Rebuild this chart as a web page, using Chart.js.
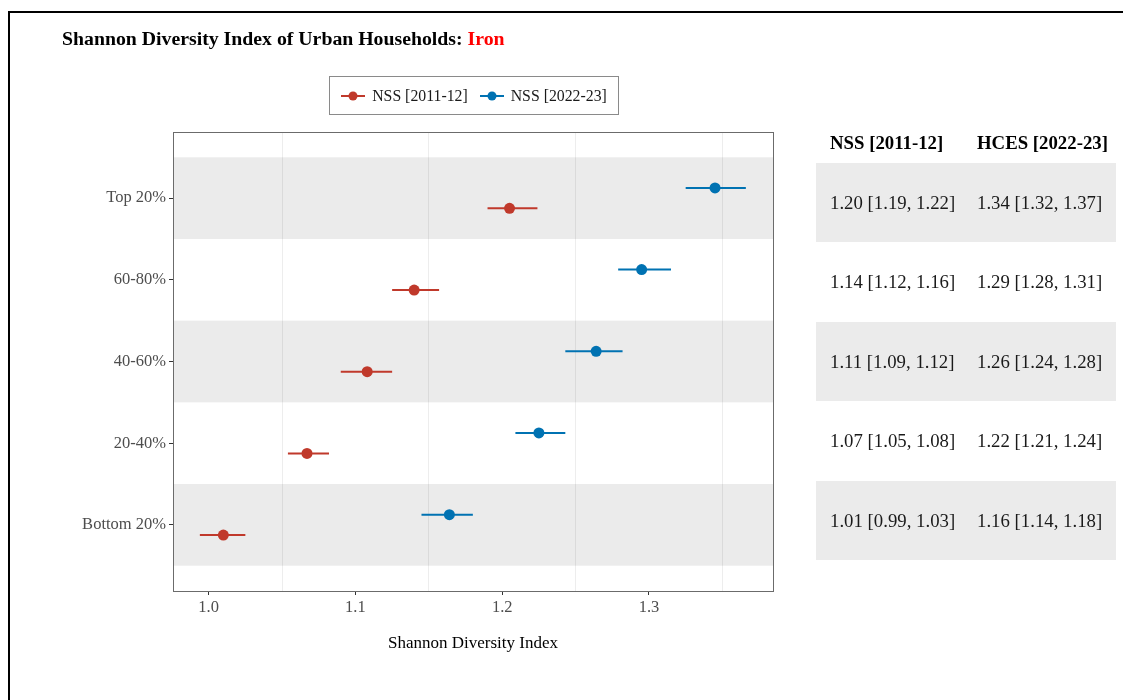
<!DOCTYPE html>
<html>
<head>
<meta charset="utf-8">
<script src="https://cdn.jsdelivr.net/npm/chart.js@4.4.1/dist/chart.umd.min.js"></script>
<style>
  body { margin: 0; width: 1123px; height: 700px; overflow: hidden; background: #fff; font-family: "Liberation Serif", serif; position: relative; }
  #frame { position: absolute; left: 8px; top: 11px; width: 1200px; height: 800px; border-left: 2px solid #000; border-top: 2px solid #000; }
  #chart { position: absolute; left: 0; top: 0; }
  #title { position: absolute; left: 62px; top: 27px; font-size: 19.8px; font-weight: bold; line-height: 22px; color: #000; white-space: nowrap; }
  #title span { color: #f00; }
  #legend { position: absolute; left: 329px; top: 76px; width: 288px; height: 37px; border: 1px solid #8a8a8a; display: flex; align-items: center; justify-content: center; gap: 12px; font-size: 15.8px; color: #1a1a1a; }
  #legend .item { display: flex; align-items: center; gap: 7px; white-space: nowrap; }
  .tbl { position: absolute; white-space: nowrap; color: #1a1a1a; }
  .hdr { font-weight: bold; font-size: 18.8px; color: #000; }
  .band { position: absolute; left: 816px; width: 300px; background: #ebebeb; }
</style>
</head>
<body>
<div id="frame"></div>
<canvas id="chart" width="1123" height="700"></canvas>
<div id="title">Shannon Diversity Index of Urban Households: <span>Iron</span></div>
<div id="legend"></div>
<div id="table"></div>
<script>
"use strict"

// categories from top to bottom
const categories = ['Top 20%', '60-80%', '40-60%', '20-40%', 'Bottom 20%'];
const xTicks = [1.0, 1.1, 1.2, 1.3];
const xGrid = [1.05, 1.15, 1.25, 1.35];

const nssMean = [1.205, 1.140, 1.108, 1.067, 1.010];
const nssLow  = [1.190, 1.125, 1.090, 1.054, 0.994];
const nssHigh = [1.224, 1.157, 1.125, 1.082, 1.025];

const hcesMean = [1.345, 1.295, 1.264, 1.225, 1.164];
const hcesLow  = [1.325, 1.279, 1.243, 1.209, 1.145];
const hcesHigh = [1.366, 1.315, 1.282, 1.243, 1.180];

const legendNames = ['NSS [2011-12]', 'NSS [2022-23]'];
const tableHeaders = ['NSS [2011-12]', 'HCES [2022-23]'];
const nssText  = ['1.20 [1.19, 1.22]', '1.14 [1.12, 1.16]', '1.11 [1.09, 1.12]', '1.07 [1.05, 1.08]', '1.01 [0.99, 1.03]'];
const hcesText = ['1.34 [1.32, 1.37]', '1.29 [1.28, 1.31]', '1.26 [1.24, 1.28]', '1.22 [1.21, 1.24]', '1.16 [1.14, 1.18]'];

const RED = '#c0392b';
const BLUE = '#0072b2';
const DODGE = 0.125;

function yPos(i) { return categories.length - i; }

let datasets = [];
function addSeries(mean, low, high, color, shift) {
    categories.forEach((c, i) => {
        datasets.push({
            type: 'line',
            data: [{x: low[i], y: yPos(i) + shift}, {x: high[i], y: yPos(i) + shift}],
            borderColor: color,
            borderWidth: 2,
            pointRadius: 0,
            fill: false
        });
    });
    datasets.push({
        type: 'scatter',
        data: categories.map((c, i) => ({x: mean[i], y: yPos(i) + shift})),
        backgroundColor: color,
        borderWidth: 0,
        pointRadius: 5.5
    });
}
addSeries(nssMean, nssLow, nssHigh, RED, -DODGE);
addSeries(hcesMean, hcesLow, hcesHigh, BLUE, DODGE);

const bandPlugin = {
    id: 'bands',
    beforeDraw(chart) {
        const ctx = chart.ctx, area = chart.chartArea, y = chart.scales.y;
        ctx.save();
        ctx.fillStyle = '#ebebeb';
        categories.forEach((c, i) => {
            if (i % 2 !== 0) return;
            const top = y.getPixelForValue(yPos(i) + 0.5);
            const bot = y.getPixelForValue(yPos(i) - 0.5);
            ctx.fillRect(area.left, top, area.right - area.left, bot - top);
        });
        ctx.restore();
    },
    afterDraw(chart) {
        const ctx = chart.ctx, a = chart.chartArea;
        ctx.save();
        ctx.strokeStyle = '#6b6b6b';
        ctx.lineWidth = 1;
        ctx.strokeRect(Math.round(a.left) + 0.5, Math.round(a.top) + 0.5, Math.round(a.right - a.left), Math.round(a.bottom - a.top));
        ctx.restore();
    }
};

Chart.defaults.font.family = '"Liberation Serif", serif';

new Chart(document.getElementById('chart'), {
    type: 'scatter',
    data: { datasets: datasets },
    options: {
        responsive: false,
        animation: false,
        layout: { padding: { left: 0, top: 132, right: 350, bottom: 42 } },
        plugins: { legend: { display: false }, tooltip: { enabled: false } },
        scales: {
            x: {
                type: 'linear',
                min: 0.9757,
                max: 1.3845,
                afterBuildTicks: (scale) => {
                    scale.ticks = xTicks.concat(xGrid).sort().map(v => ({value: v}));
                },
                afterFit: (scale) => { scale.height = 67; },
                ticks: {
                    autoSkip: false,
                    maxRotation: 0,
                    padding: 3,
                    color: '#4d4d4d',
                    font: { size: 16.5 },
                    callback: (v) => xTicks.some(t => Math.abs(t - v) < 1e-6) ? v.toFixed(1) : ''
                },
                grid: {
                    drawTicks: true,
                    tickLength: 4,
                    lineWidth: 1,
                    color: (ctx) => xGrid.some(t => ctx.tick && Math.abs(t - ctx.tick.value) < 1e-6) ? 'rgba(0,0,0,0.07)' : 'rgba(0,0,0,0)',
                    tickColor: (ctx) => xTicks.some(t => ctx.tick && Math.abs(t - ctx.tick.value) < 1e-6) ? '#333' : 'rgba(0,0,0,0)'
                },
                border: { display: false },
                title: {
                    display: true,
                    text: 'Shannon Diversity Index',
                    color: '#000',
                    font: { size: 17 },
                    padding: { top: 4, bottom: 4 }
                }
            },
            y: {
                type: 'linear',
                min: 0.19,
                max: 5.81,
                afterBuildTicks: (scale) => {
                    scale.ticks = categories.map((c, i) => ({value: yPos(i)}));
                },
                afterFit: (scale) => { scale.width = 173; },
                ticks: {
                    autoSkip: false,
                    padding: 3,
                    color: '#4d4d4d',
                    font: { size: 16.5 },
                    callback: (v) => categories[categories.length - Math.round(v)]
                },
                grid: { drawOnChartArea: false, drawTicks: true, tickLength: 4, tickColor: '#333' },
                border: { display: false }
            }
        }
    },
    plugins: [bandPlugin]
});

// legend
function legendIcon(color) {
    return '<svg width="24" height="12"><line x1="0" y1="6" x2="24" y2="6" stroke="' + color + '" stroke-width="2"/>' +
        '<circle cx="12" cy="6" r="4.5" fill="' + color + '"/></svg>';
}
const legendColors = [RED, BLUE];
document.getElementById('legend').innerHTML = legendNames.map((n, i) =>
    '<div class="item">' + legendIcon(legendColors[i]) + '<span>' + n + '</span></div>').join('');

// table on the right
const tableCols = [830, 977];
const rowTop = 163, rowH = 79.4;
let html = '';
tableHeaders.forEach((h, j) => {
    html += '<div class="tbl hdr" style="left:' + tableCols[j] + 'px;top:132px;line-height:22px">' + h + '</div>';
});
categories.forEach((c, i) => {
    const top = rowTop + i * rowH;
    if (i % 2 === 0) html += '<div class="band" style="top:' + top + 'px;height:' + rowH + 'px"></div>';
    [nssText[i], hcesText[i]].forEach((t, j) => {
        html += '<div class="tbl" style="left:' + tableCols[j] + 'px;top:' + top + 'px;line-height:' + rowH + 'px;font-size:18.8px">' + t + '</div>';
    });
});
document.getElementById('table').innerHTML = html;
</script>
</body>
</html>
